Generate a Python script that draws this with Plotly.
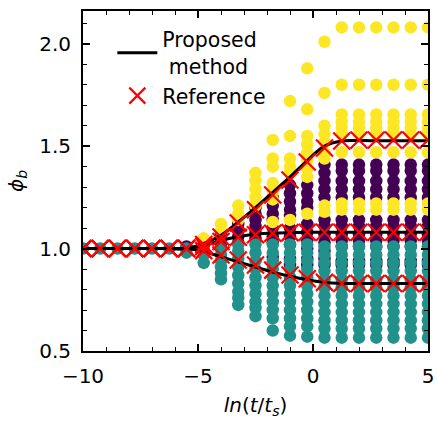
import plotly.graph_objects as go

# ---- data ----
x_nodes = [-10.0, -9.25, -8.5, -7.75, -7.0, -6.25, -5.5, -4.75, -4.0, -3.25, -2.5,
           -1.75, -1.0, -0.25, 0.5, 1.25, 2.0, 2.75, 3.5, 4.25, 5.0]

yellow_phi = [
    [], [], [], [], [], [], [],
    [1.05],
    [1.12, 1.09],
    [1.21, 1.17, 1.14],
    [1.37, 1.33, 1.29, 1.25, 1.21],
    [1.53, 1.44, 1.40, 1.32, 1.28, 1.24, 1.13],
    [1.72, 1.55, 1.44, 1.40, 1.37, 1.14],
    [1.88, 1.68, 1.55, 1.51, 1.47, 1.43, 1.39, 1.35, 1.17],
    [2.01, 1.76, 1.60, 1.56, 1.52, 1.47, 1.44, 1.21, 1.18],
    [2.08, 1.80, 1.655, 1.62, 1.59, 1.56, 1.47, 1.22, 1.19],
    [2.08, 1.80, 1.655, 1.62, 1.59, 1.56, 1.47, 1.22, 1.19],
    [2.08, 1.80, 1.655, 1.62, 1.59, 1.56, 1.47, 1.22, 1.19],
    [2.08, 1.80, 1.655, 1.62, 1.59, 1.56, 1.47, 1.22, 1.19],
    [2.08, 1.80, 1.655, 1.62, 1.59, 1.56, 1.47, 1.22, 1.19],
    [2.08, 1.80, 1.655, 1.62, 1.59, 1.56, 1.47, 1.22, 1.19],
]

purple_phi = [
    [], [], [], [], [], [],
    [1.01],
    [1.035, 1.015],
    [1.075, 1.05, 1.025],
    [1.12, 1.09, 1.06, 1.03],
    [1.20, 1.17, 1.14, 1.11, 1.08, 1.05],
    [1.25, 1.21, 1.17, 1.14, 1.10, 1.06, 1.03, 0.96],
    [1.31, 1.27, 1.23, 1.19, 1.16, 1.10, 1.06, 1.02, 0.95, 0.92],
    [1.31, 1.27, 1.23, 1.20, 1.12, 1.08, 1.04, 1.00, 0.95, 0.92],
    [1.41, 1.37, 1.33, 1.29, 1.25, 1.14, 1.11, 1.07, 1.03, 0.99, 0.95, 0.92],
    [1.41, 1.38, 1.33, 1.29, 1.25, 1.14, 1.11, 1.07, 1.04, 1.01, 0.94, 0.92],
    [1.41, 1.38, 1.33, 1.29, 1.25, 1.14, 1.11, 1.07, 1.04, 1.01, 0.94, 0.92],
    [1.41, 1.38, 1.33, 1.29, 1.25, 1.14, 1.11, 1.07, 1.04, 1.01, 0.94, 0.92],
    [1.41, 1.38, 1.33, 1.29, 1.25, 1.14, 1.11, 1.07, 1.04, 1.01, 0.94, 0.92],
    [1.41, 1.38, 1.33, 1.29, 1.25, 1.14, 1.11, 1.07, 1.04, 1.01, 0.94, 0.92],
    [1.41, 1.38, 1.33, 1.29, 1.25, 1.14, 1.11, 1.07, 1.04, 1.01, 0.94, 0.92],
]

teal_phi = [
    [1.0], [1.0], [1.0], [1.0], [1.0], [1.0],
    [1.0, 0.98],
    [1.0, 0.97, 0.93],
    [1.0, 0.97, 0.94, 0.91, 0.88, 0.85],
    [1.02, 0.99, 0.95, 0.91, 0.87, 0.83, 0.79, 0.76, 0.725],
    [1.02, 0.98, 0.94, 0.90, 0.86, 0.82, 0.78, 0.74, 0.71, 0.67],
    [1.02, 0.98, 0.94, 0.90, 0.86, 0.82, 0.78, 0.74, 0.70, 0.66, 0.60],
    [1.02, 0.98, 0.94, 0.90, 0.86, 0.82, 0.78, 0.74, 0.70, 0.66, 0.62, 0.575],
    [1.02, 0.98, 0.94, 0.90, 0.86, 0.82, 0.78, 0.74, 0.70, 0.66, 0.62, 0.57],
    [1.01, 0.97, 0.93, 0.89, 0.85, 0.81, 0.77, 0.73, 0.69, 0.65, 0.61, 0.565],
    [1.01, 0.97, 0.93, 0.89, 0.85, 0.81, 0.77, 0.73, 0.69, 0.65, 0.61, 0.565],
    [1.01, 0.97, 0.93, 0.89, 0.85, 0.81, 0.77, 0.73, 0.69, 0.65, 0.61, 0.565],
    [1.01, 0.97, 0.93, 0.89, 0.85, 0.81, 0.77, 0.73, 0.69, 0.65, 0.61, 0.565],
    [1.01, 0.97, 0.93, 0.89, 0.85, 0.81, 0.77, 0.73, 0.69, 0.65, 0.61, 0.565],
    [1.01, 0.97, 0.93, 0.89, 0.85, 0.81, 0.77, 0.73, 0.69, 0.65, 0.61, 0.565],
    [1.01, 0.97, 0.93, 0.89, 0.85, 0.81, 0.77, 0.73, 0.69, 0.65, 0.61, 0.565],
]

proposed_upper = [1.0, 1.0, 1.0, 1.0, 1.0, 1.0, 1.0, 1.025, 1.065, 1.13, 1.20,
                  1.275, 1.35, 1.43, 1.50, 1.525, 1.527, 1.527, 1.527, 1.527, 1.527]
proposed_middle = [1.0, 1.0, 1.0, 1.0, 1.0, 1.0, 1.0, 1.015, 1.04, 1.058, 1.07,
                   1.076, 1.078, 1.079, 1.08, 1.08, 1.08, 1.08, 1.08, 1.08, 1.08]
proposed_lower = [1.0, 1.0, 1.0, 1.0, 1.0, 1.0, 1.0, 0.985, 0.96, 0.935, 0.91,
                  0.885, 0.865, 0.848, 0.835, 0.83, 0.83, 0.83, 0.83, 0.83, 0.83]

ref_upper = [1.0, 1.0, 1.0, 1.0, 1.0, 1.0, 1.0, 1.02, 1.057, 1.125, 1.19,
             1.262, 1.335, 1.423, 1.491, 1.525, 1.53, 1.53, 1.53, 1.53, 1.53]
ref_middle = [1.0, 1.0, 1.0, 1.0, 1.0, 1.0, 1.0, 1.01, 1.035, 1.055, 1.068,
              1.075, 1.078, 1.08, 1.08, 1.08, 1.08, 1.08, 1.08, 1.08, 1.08]
ref_lower = [1.0, 1.0, 1.0, 1.0, 1.0, 1.0, 1.0, 0.99, 0.969, 0.944, 0.92,
             0.895, 0.871, 0.853, 0.835, 0.83, 0.83, 0.83, 0.83, 0.83, 0.83]

x_ticks = [-10, -5, 0, 5]
y_ticks = [0.5, 1.0, 1.5, 2.0]

# ---- colours ----
YELLOW = "#fde725"
PURPLE = "#440154"
TEAL = "#21918c"
FONT = "DejaVu Sans"


def flatten(groups):
    xs, ys = [], []
    for xv, vals in zip(x_nodes, groups):
        for v in vals:
            xs.append(xv)
            ys.append(v)
    return xs, ys


fig = go.Figure()

for groups, col in [(purple_phi, PURPLE), (yellow_phi, YELLOW), (teal_phi, TEAL)]:
    xs, ys = flatten(groups)
    fig.add_trace(go.Scatter(x=xs, y=ys, mode="markers", showlegend=False,
                             marker=dict(size=12.5, color=col, line=dict(width=0))))

for i, ys in enumerate([proposed_upper, proposed_middle, proposed_lower]):
    fig.add_trace(go.Scatter(x=x_nodes, y=ys, mode="lines",
                             name="Proposed<br>\u00a0method",
                             legendgroup="prop", showlegend=(i == 0),
                             line=dict(color="black", width=3, shape="spline")))

for i, ys in enumerate([ref_upper, ref_middle, ref_lower]):
    fig.add_trace(go.Scatter(x=x_nodes, y=ys, mode="markers",
                             name="Reference", legendgroup="ref", showlegend=(i == 0),
                             marker=dict(symbol="x-thin", size=17,
                                         line=dict(color="#ff0000", width=2.2))))

axis_common = dict(
    showgrid=False, zeroline=False, showline=True, linecolor="black", linewidth=1.8,
    mirror="ticks", ticks="inside", ticklen=7, tickwidth=1.5, tickcolor="black",
    tickfont=dict(family=FONT, size=20, color="black"),
)

fig.update_xaxes(range=[-10, 5], tickvals=x_ticks,
                 ticktext=["\u221210", "\u22125", "0", "5"],
                 minor=dict(dtick=1, ticks="inside", ticklen=4, tickwidth=1.2, tickcolor="black"),
                 title=dict(text="<i>ln</i>(<i>t</i>/<i>t</i><sub><i>s</i></sub>)",
                            font=dict(family=FONT, size=20, color="black"), standoff=11),
                 ticklabelstandoff=6,
                 **axis_common)
fig.update_yaxes(range=[0.5, 2.16], tickvals=y_ticks,
                 ticktext=["0.5", "1.0", "1.5", "2.0"],
                 minor=dict(dtick=0.1, ticks="inside", ticklen=4, tickwidth=1.2, tickcolor="black"),
                 title=dict(text="<i>\u03d5</i><sub><i>b</i></sub>",
                            font=dict(family=FONT, size=20, color="black"), standoff=10),
                 ticklabelstandoff=6,
                 **axis_common)

fig.update_layout(
    width=437, height=425,
    margin=dict(l=83, r=9, t=11, b=74, autoexpand=False),
    paper_bgcolor="white", plot_bgcolor="white",
    font=dict(family=FONT, size=20, color="black"),
    legend=dict(x=0.085, y=0.975, xanchor="left", yanchor="top",
                bgcolor="rgba(0,0,0,0)", borderwidth=0,
                font=dict(family=FONT, size=20.5, color="black"),
                itemwidth=40, tracegroupgap=0),
)

fig.write_html("out.html")
